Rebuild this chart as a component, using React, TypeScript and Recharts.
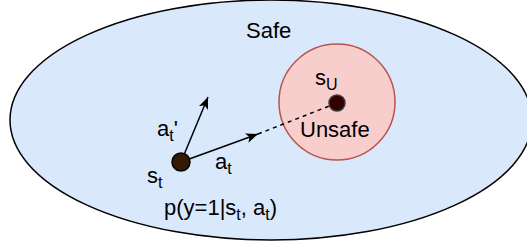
import React from 'react'
import { ScatterChart, Scatter, XAxis, YAxis } from 'recharts'

const W = 527
const H = 248

// diagram space: 1 unit = 1 px, y grows downward
const safeRegion = [{ name: 'Safe', x: 271, y: 120 }]
const unsafeRegion = [{ name: 'Unsafe', x: 337, y: 102 }]
const states = [
  { name: 's_t', x: 181, y: 162 },
  { name: 's_U', x: 337, y: 103 },
]
const actionTips = [
  { name: 'a_t', x: 258, y: 134 },
  { name: "a_t'", x: 208, y: 97 },
]

type Part = { t: string; sub?: boolean }
const labels: { x: number; y: number; parts: Part[] }[] = [
  { x: 246, y: 38, parts: [{ t: 'Safe' }] },
  { x: 300, y: 137, parts: [{ t: 'Unsafe' }] },
  { x: 315, y: 85, parts: [{ t: 's' }, { t: 'U', sub: true }] },
  { x: 157, y: 136, parts: [{ t: 'a' }, { t: 't', sub: true }, { t: "'" }] },
  { x: 215, y: 169, parts: [{ t: 'a' }, { t: 't', sub: true }] },
  { x: 147, y: 183, parts: [{ t: 's' }, { t: 't', sub: true }] },
  {
    x: 164,
    y: 215,
    parts: [{ t: 'p(y=1|s' }, { t: 't', sub: true }, { t: ', a' }, { t: 't', sub: true }, { t: ')' }],
  },
]

const FONT = '"Liberation Sans", Arial, Helvetica, sans-serif'

const ellipseShape = (rx: number, ry: number, fill: string, stroke: string) => (p: any) => (
  <ellipse cx={p.cx} cy={p.cy} rx={rx} ry={ry} fill={fill} stroke={stroke} strokeWidth={1.5} />
)

const dotShape = (p: any) => {
  const isU = p.payload.name === 's_U'
  return (
    <circle
      cx={p.cx}
      cy={p.cy}
      r={isU ? 8 : 9}
      fill={isU ? '#330000' : '#331A00'}
      stroke={isU ? '#36393d' : '#000'}
      strokeWidth={1.5}
    />
  )
}

const noShape = () => <g />

const labelShape = (p: any) => {
  const parts: Part[] = p.payload.parts
  let shifted = false
  return (
    <text x={p.cx} y={p.cy} fontFamily={FONT} fontSize={22} fill="#000">
      {parts.map((part, i) => {
        let dy = 0
        if (part.sub && !shifted) { dy = 5; shifted = true }
        else if (!part.sub && shifted) { dy = -5; shifted = false }
        return (
          <tspan key={i} dy={dy} fontSize={part.sub ? 16 : 22}>
            {part.t}
          </tspan>
        )
      })}
    </text>
  )
}

export default function App() {
  const st = states[0]
  const su = states[1]
  const arrowLine = { stroke: '#000', strokeWidth: 1.5, markerEnd: 'url(#arr)' }
  return (
    <div style={{ position: 'fixed', left: 0, top: 0, width: W, height: H, background: '#fff' }}>
      <svg width={0} height={0} style={{ position: 'absolute' }}>
        <defs>
          <marker id="arr" markerUnits="userSpaceOnUse" markerWidth={14} markerHeight={12} refX={12} refY={5} orient="auto">
            <path d="M0,0 L12,5 L0,10 L3,5 Z" fill="#000" />
          </marker>
        </defs>
      </svg>
      <ScatterChart width={W} height={H} margin={{ top: 0, right: 0, bottom: 0, left: 0 }}>
        <XAxis type="number" dataKey="x" domain={[0, W]} hide />
        <YAxis type="number" dataKey="y" domain={[0, H]} reversed hide />
        <Scatter data={safeRegion} shape={ellipseShape(261, 120, '#dae8fc', '#000')} isAnimationActive={false} />
        <Scatter data={unsafeRegion} shape={ellipseShape(58, 58, '#f8cecc', '#b85450')} isAnimationActive={false} />
        <Scatter
          data={[actionTips[0], su]}
          line={{ stroke: '#000', strokeWidth: 1.5, strokeDasharray: '4 4' }}
          shape={noShape}
          isAnimationActive={false}
        />
        <Scatter data={[st, actionTips[0]]} line={arrowLine} shape={noShape} isAnimationActive={false} />
        <Scatter data={[st, actionTips[1]]} line={arrowLine} shape={noShape} isAnimationActive={false} />
        <Scatter data={states} shape={dotShape} isAnimationActive={false} />
        <Scatter data={labels} shape={labelShape} isAnimationActive={false} />
      </ScatterChart>
    </div>
  )
}
